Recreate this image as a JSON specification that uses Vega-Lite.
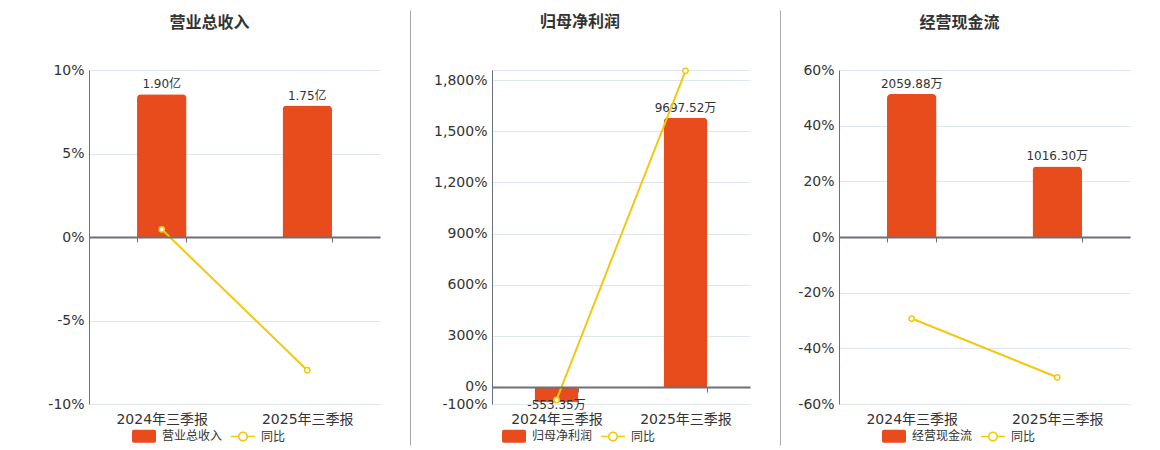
{
  "$schema": "https://vega.github.io/schema/vega-lite/v6.json",
  "padding": {"left": 0, "top": 14, "right": 0, "bottom": 0},
  "spacing": 0,
  "config": {
    "font": "DejaVu Sans, Noto Sans CJK SC",
    "view": {"stroke": null},
    "axis": {"titlePadding": 0, "labelFont": "DejaVu Sans, Noto Sans CJK SC"},
    "title": {"fontSize": 16, "fontWeight": "bold", "color": "#333", "font": "Noto Sans CJK SC", "anchor": "middle", "offset": 32},
    "legend": {"padding": 0, "labelFont": "Noto Sans CJK SC"}
  },
  "resolve": {"scale": {"color": "independent"}, "legend": {"color": "independent"}},
  "hconcat": [
    {
      "title": {"text": "营业总收入", "dx": -25},
      "width": 291,
      "height": 334,
      "data": {"values": [
        {"period": "2024年三季报", "value": 1.90, "yoy": 0.46, "label": "1.90亿"},
        {"period": "2025年三季报", "value": 1.75, "yoy": -7.98, "label": "1.75亿"}
      ]},
      "encoding": {
        "x": {"field": "period", "type": "nominal", "sort": null,
          "scale": {"paddingInner": 0.66, "paddingOuter": 0.33},
          "axis": {"title": null, "labelAngle": 0, "offset": -167, "zindex": 1, "domainColor": "#6E7079", "domainWidth": 2, "ticks": true, "tickBand": "extent", "tickSize": 5, "tickColor": "#6E7079", "labelPadding": 170, "labelFontSize": 14, "labelColor": "#333"}}
      },
      "layer": [
        {
          "mark": {"type": "bar", "cornerRadiusEnd": 4},
          "encoding": {
            "y": {"field": "value", "type": "quantitative", "scale": {"domain": [-2.2236, 2.2236], "nice": false, "zero": false},
              "axis": {"orient": "right", "labels": false, "ticks": false, "domain": false, "grid": false, "title": null, "minExtent": 30, "maxExtent": 30}},
            "color": {"datum": "营业总收入", "type": "nominal",
              "scale": {"domain": ["营业总收入", "同比"], "range": ["#E84B1C", "#F3C80F"]},
              "legend": {"orient": "none", "legendX": 43, "legendY": 354, "direction": "horizontal", "title": null, "labelFontSize": 12, "labelColor": "#333", "labelOffset": 6, "columnPadding": 8, "symbolSize": 576,
                "encode": {"symbols": {"update": {
                  "shape": [{"test": "datum.value === '同比'", "value": "M-1,-0.07H-0.4V0.07H-1ZM0.4,-0.07H1V0.07H0.4ZM0.42,0A0.42,0.42,0,1,1,-0.42,0A0.42,0.42,0,1,1,0.42,0ZM0.29,0A0.29,0.29,0,1,0,-0.29,0A0.29,0.29,0,1,0,0.29,0Z"}, {"value": "M-0.85,-0.54H0.85Q1,-0.54,1,-0.39V0.39Q1,0.54,0.85,0.54H-0.85Q-1,0.54,-1,0.39V-0.39Q-1,-0.54,-0.85,-0.54Z"}],
                  "fill": [{"test": "datum.value === '同比'", "value": "#F3C80F"}, {"value": "#E84B1C"}],
                  "stroke": {"value": "transparent"},
                  "strokeWidth": {"value": 0},
                  "opacity": {"value": 1}
                }}}}}
          }
        },
        {
          "transform": [{"filter": "datum.value >= 0"}],
          "mark": {"type": "text", "baseline": "alphabetic", "dy": -6, "fontSize": 12, "color": "#333"},
          "encoding": {
            "y": {"field": "value", "type": "quantitative", "scale": {"domain": [-2.2236, 2.2236], "nice": false, "zero": false}, "axis": null},
            "text": {"field": "label"}
          }
        },
        {
          "mark": {"type": "line", "strokeWidth": 2, "point": {"filled": true, "fill": "#ffffff", "stroke": "#F3C80F", "strokeWidth": 1.5, "size": 28}},
          "encoding": {
            "y": {"field": "yoy", "type": "quantitative", "scale": {"domain": [-10, 10], "nice": false, "zero": false},
              "axis": {"orient": "left", "values": [-10, -5, 0, 5, 10], "labelExpr": "datum.value + '%'", "grid": true, "gridColor": "#E0E6F1", "domain": true, "domainColor": "#6E7079", "ticks": false, "labelPadding": 5, "labelFontSize": 14, "labelColor": "#333", "title": null, "minExtent": 89, "maxExtent": 89}},
            "color": {"datum": "同比", "type": "nominal", "scale": {"domain": ["营业总收入", "同比"], "range": ["#E84B1C", "#F3C80F"]},
              "legend": {"orient": "none", "legendX": 43, "legendY": 354, "direction": "horizontal", "title": null, "labelFontSize": 12, "labelColor": "#333", "labelOffset": 6, "columnPadding": 8, "symbolSize": 576,
                "encode": {"symbols": {"update": {
                  "shape": [{"test": "datum.value === '同比'", "value": "M-1,-0.07H-0.4V0.07H-1ZM0.4,-0.07H1V0.07H0.4ZM0.42,0A0.42,0.42,0,1,1,-0.42,0A0.42,0.42,0,1,1,0.42,0ZM0.29,0A0.29,0.29,0,1,0,-0.29,0A0.29,0.29,0,1,0,0.29,0Z"}, {"value": "M-0.85,-0.54H0.85Q1,-0.54,1,-0.39V0.39Q1,0.54,0.85,0.54H-0.85Q-1,0.54,-1,0.39V-0.39Q-1,-0.54,-0.85,-0.54Z"}],
                  "fill": [{"test": "datum.value === '同比'", "value": "#F3C80F"}, {"value": "#E84B1C"}],
                  "stroke": {"value": "transparent"},
                  "strokeWidth": {"value": 0},
                  "opacity": {"value": 1}
                }}}}}
          }
        }
      ],
      "resolve": {"scale": {"y": "independent"}}
    },
    {
      "width": 1,
      "height": 334,
      "data": {"values": [{"v": 0}]},
      "mark": {"type": "text", "text": ""},
      "encoding": {
        "y": {"field": "v", "type": "quantitative", "scale": {"domain": [0, 1], "range": [375, -60]},
          "axis": {"orient": "left", "labels": false, "ticks": false, "grid": false, "title": null, "domainColor": "#A8A8A8", "domainWidth": 1, "minExtent": 0, "maxExtent": 0}}
      }
    },
    {
      "title": {"text": "归母净利润", "dx": -41, "dy": -3},
      "width": 258,
      "height": 334,
      "data": {"values": [
        {"period": "2024年三季报", "value": -553.35, "yoy": -76, "label": "-553.35万"},
        {"period": "2025年三季报", "value": 9697.52, "yoy": 1855, "label": "9697.52万"}
      ]},
      "encoding": {
        "x": {"field": "period", "type": "nominal", "sort": null,
          "scale": {"paddingInner": 0.66, "paddingOuter": 0.33},
          "axis": {"title": null, "labelAngle": 0, "offset": -17, "zindex": 1, "domainColor": "#6E7079", "domainWidth": 2, "ticks": true, "tickBand": "extent", "tickSize": 5, "tickColor": "#6E7079", "labelPadding": 20, "labelFontSize": 14, "labelColor": "#333"}}
      },
      "layer": [
        {
          "mark": {"type": "bar", "cornerRadiusEnd": 4},
          "encoding": {
            "y": {"field": "value", "type": "quantitative", "scale": {"domain": [-613.6, 11413.3], "nice": false, "zero": false},
              "axis": {"orient": "right", "labels": false, "ticks": false, "domain": false, "grid": false, "title": null, "minExtent": 30, "maxExtent": 30}},
            "color": {"datum": "归母净利润", "type": "nominal",
              "scale": {"domain": ["归母净利润", "同比"], "range": ["#E84B1C", "#F3C80F"]},
              "legend": {"orient": "none", "legendX": 10, "legendY": 354, "direction": "horizontal", "title": null, "labelFontSize": 12, "labelColor": "#333", "labelOffset": 6, "columnPadding": 8, "symbolSize": 576,
                "encode": {"symbols": {"update": {
                  "shape": [{"test": "datum.value === '同比'", "value": "M-1,-0.07H-0.4V0.07H-1ZM0.4,-0.07H1V0.07H0.4ZM0.42,0A0.42,0.42,0,1,1,-0.42,0A0.42,0.42,0,1,1,0.42,0ZM0.29,0A0.29,0.29,0,1,0,-0.29,0A0.29,0.29,0,1,0,0.29,0Z"}, {"value": "M-0.85,-0.54H0.85Q1,-0.54,1,-0.39V0.39Q1,0.54,0.85,0.54H-0.85Q-1,0.54,-1,0.39V-0.39Q-1,-0.54,-0.85,-0.54Z"}],
                  "fill": [{"test": "datum.value === '同比'", "value": "#F3C80F"}, {"value": "#E84B1C"}],
                  "stroke": {"value": "transparent"},
                  "strokeWidth": {"value": 0},
                  "opacity": {"value": 1}
                }}}}}
          }
        },
        {
          "transform": [{"filter": "datum.value >= 0"}],
          "mark": {"type": "text", "baseline": "alphabetic", "dy": -6, "fontSize": 12, "color": "#333"},
          "encoding": {
            "y": {"field": "value", "type": "quantitative", "scale": {"domain": [-613.6, 11413.3], "nice": false, "zero": false}, "axis": null},
            "text": {"field": "label"}
          }
        },
        {
          "transform": [{"filter": "datum.value < 0"}],
          "mark": {"type": "text", "baseline": "alphabetic", "dy": 7, "fontSize": 12, "color": "#333"},
          "encoding": {
            "y": {"field": "value", "type": "quantitative", "scale": {"domain": [-613.6, 11413.3], "nice": false, "zero": false}, "axis": null},
            "text": {"field": "label"}
          }
        },
        {
          "mark": {"type": "line", "strokeWidth": 2, "point": {"filled": true, "fill": "#ffffff", "stroke": "#F3C80F", "strokeWidth": 1.5, "size": 28}},
          "encoding": {
            "y": {"field": "yoy", "type": "quantitative", "scale": {"domain": [-100, 1860], "nice": false, "zero": false},
              "axis": {"orient": "left", "values": [-100, 0, 300, 600, 900, 1200, 1500, 1800, 1860], "labelExpr": "datum.value > 1850 ? ' ' : (datum.value < 0 ? '-' : '') + format(abs(datum.value), ',') + '%'", "grid": true, "gridColor": "#E0E6F1", "domain": true, "domainColor": "#6E7079", "ticks": false, "labelPadding": 5, "labelFontSize": 14, "labelColor": "#333", "title": null, "minExtent": 81, "maxExtent": 81}},
            "color": {"datum": "同比", "type": "nominal", "scale": {"domain": ["归母净利润", "同比"], "range": ["#E84B1C", "#F3C80F"]},
              "legend": {"orient": "none", "legendX": 10, "legendY": 354, "direction": "horizontal", "title": null, "labelFontSize": 12, "labelColor": "#333", "labelOffset": 6, "columnPadding": 8, "symbolSize": 576,
                "encode": {"symbols": {"update": {
                  "shape": [{"test": "datum.value === '同比'", "value": "M-1,-0.07H-0.4V0.07H-1ZM0.4,-0.07H1V0.07H0.4ZM0.42,0A0.42,0.42,0,1,1,-0.42,0A0.42,0.42,0,1,1,0.42,0ZM0.29,0A0.29,0.29,0,1,0,-0.29,0A0.29,0.29,0,1,0,0.29,0Z"}, {"value": "M-0.85,-0.54H0.85Q1,-0.54,1,-0.39V0.39Q1,0.54,0.85,0.54H-0.85Q-1,0.54,-1,0.39V-0.39Q-1,-0.54,-0.85,-0.54Z"}],
                  "fill": [{"test": "datum.value === '同比'", "value": "#F3C80F"}, {"value": "#E84B1C"}],
                  "stroke": {"value": "transparent"},
                  "strokeWidth": {"value": 0},
                  "opacity": {"value": 1}
                }}}}}
          }
        }
      ],
      "resolve": {"scale": {"y": "independent"}}
    },
    {
      "width": 1,
      "height": 334,
      "data": {"values": [{"v": 0}]},
      "mark": {"type": "text", "text": ""},
      "encoding": {
        "y": {"field": "v", "type": "quantitative", "scale": {"domain": [0, 1], "range": [375, -60]},
          "axis": {"orient": "left", "labels": false, "ticks": false, "grid": false, "title": null, "domainColor": "#A8A8A8", "domainWidth": 1, "minExtent": 0, "maxExtent": 0}}
      }
    },
    {
      "title": {"text": "经营现金流", "dx": -25},
      "width": 291,
      "height": 334,
      "data": {"values": [
        {"period": "2024年三季报", "value": 2059.88, "yoy": -29.3, "label": "2059.88万"},
        {"period": "2025年三季报", "value": 1016.30, "yoy": -50.4, "label": "1016.30万"}
      ]},
      "encoding": {
        "x": {"field": "period", "type": "nominal", "sort": null,
          "scale": {"paddingInner": 0.66, "paddingOuter": 0.33},
          "axis": {"title": null, "labelAngle": 0, "offset": -167, "zindex": 1, "domainColor": "#6E7079", "domainWidth": 2, "ticks": true, "tickBand": "extent", "tickSize": 5, "tickColor": "#6E7079", "labelPadding": 170, "labelFontSize": 14, "labelColor": "#333"}}
      },
      "layer": [
        {
          "mark": {"type": "bar", "cornerRadiusEnd": 4},
          "encoding": {
            "y": {"field": "value", "type": "quantitative", "scale": {"domain": [-2405.6, 2405.6], "nice": false, "zero": false},
              "axis": {"orient": "right", "labels": false, "ticks": false, "domain": false, "grid": false, "title": null, "minExtent": 30, "maxExtent": 30}},
            "color": {"datum": "经营现金流", "type": "nominal",
              "scale": {"domain": ["经营现金流", "同比"], "range": ["#E84B1C", "#F3C80F"]},
              "legend": {"orient": "none", "legendX": 43, "legendY": 354, "direction": "horizontal", "title": null, "labelFontSize": 12, "labelColor": "#333", "labelOffset": 6, "columnPadding": 8, "symbolSize": 576,
                "encode": {"symbols": {"update": {
                  "shape": [{"test": "datum.value === '同比'", "value": "M-1,-0.07H-0.4V0.07H-1ZM0.4,-0.07H1V0.07H0.4ZM0.42,0A0.42,0.42,0,1,1,-0.42,0A0.42,0.42,0,1,1,0.42,0ZM0.29,0A0.29,0.29,0,1,0,-0.29,0A0.29,0.29,0,1,0,0.29,0Z"}, {"value": "M-0.85,-0.54H0.85Q1,-0.54,1,-0.39V0.39Q1,0.54,0.85,0.54H-0.85Q-1,0.54,-1,0.39V-0.39Q-1,-0.54,-0.85,-0.54Z"}],
                  "fill": [{"test": "datum.value === '同比'", "value": "#F3C80F"}, {"value": "#E84B1C"}],
                  "stroke": {"value": "transparent"},
                  "strokeWidth": {"value": 0},
                  "opacity": {"value": 1}
                }}}}}
          }
        },
        {
          "transform": [{"filter": "datum.value >= 0"}],
          "mark": {"type": "text", "baseline": "alphabetic", "dy": -6, "fontSize": 12, "color": "#333"},
          "encoding": {
            "y": {"field": "value", "type": "quantitative", "scale": {"domain": [-2405.6, 2405.6], "nice": false, "zero": false}, "axis": null},
            "text": {"field": "label"}
          }
        },
        {
          "mark": {"type": "line", "strokeWidth": 2, "point": {"filled": true, "fill": "#ffffff", "stroke": "#F3C80F", "strokeWidth": 1.5, "size": 28}},
          "encoding": {
            "y": {"field": "yoy", "type": "quantitative", "scale": {"domain": [-60, 60], "nice": false, "zero": false},
              "axis": {"orient": "left", "values": [-60, -40, -20, 0, 20, 40, 60], "labelExpr": "datum.value + '%'", "grid": true, "gridColor": "#E0E6F1", "domain": true, "domainColor": "#6E7079", "ticks": false, "labelPadding": 5, "labelFontSize": 14, "labelColor": "#333", "title": null, "minExtent": 58, "maxExtent": 58}},
            "color": {"datum": "同比", "type": "nominal", "scale": {"domain": ["经营现金流", "同比"], "range": ["#E84B1C", "#F3C80F"]},
              "legend": {"orient": "none", "legendX": 43, "legendY": 354, "direction": "horizontal", "title": null, "labelFontSize": 12, "labelColor": "#333", "labelOffset": 6, "columnPadding": 8, "symbolSize": 576,
                "encode": {"symbols": {"update": {
                  "shape": [{"test": "datum.value === '同比'", "value": "M-1,-0.07H-0.4V0.07H-1ZM0.4,-0.07H1V0.07H0.4ZM0.42,0A0.42,0.42,0,1,1,-0.42,0A0.42,0.42,0,1,1,0.42,0ZM0.29,0A0.29,0.29,0,1,0,-0.29,0A0.29,0.29,0,1,0,0.29,0Z"}, {"value": "M-0.85,-0.54H0.85Q1,-0.54,1,-0.39V0.39Q1,0.54,0.85,0.54H-0.85Q-1,0.54,-1,0.39V-0.39Q-1,-0.54,-0.85,-0.54Z"}],
                  "fill": [{"test": "datum.value === '同比'", "value": "#F3C80F"}, {"value": "#E84B1C"}],
                  "stroke": {"value": "transparent"},
                  "strokeWidth": {"value": 0},
                  "opacity": {"value": 1}
                }}}}}
          }
        }
      ],
      "resolve": {"scale": {"y": "independent"}}
    }
  ]
}
